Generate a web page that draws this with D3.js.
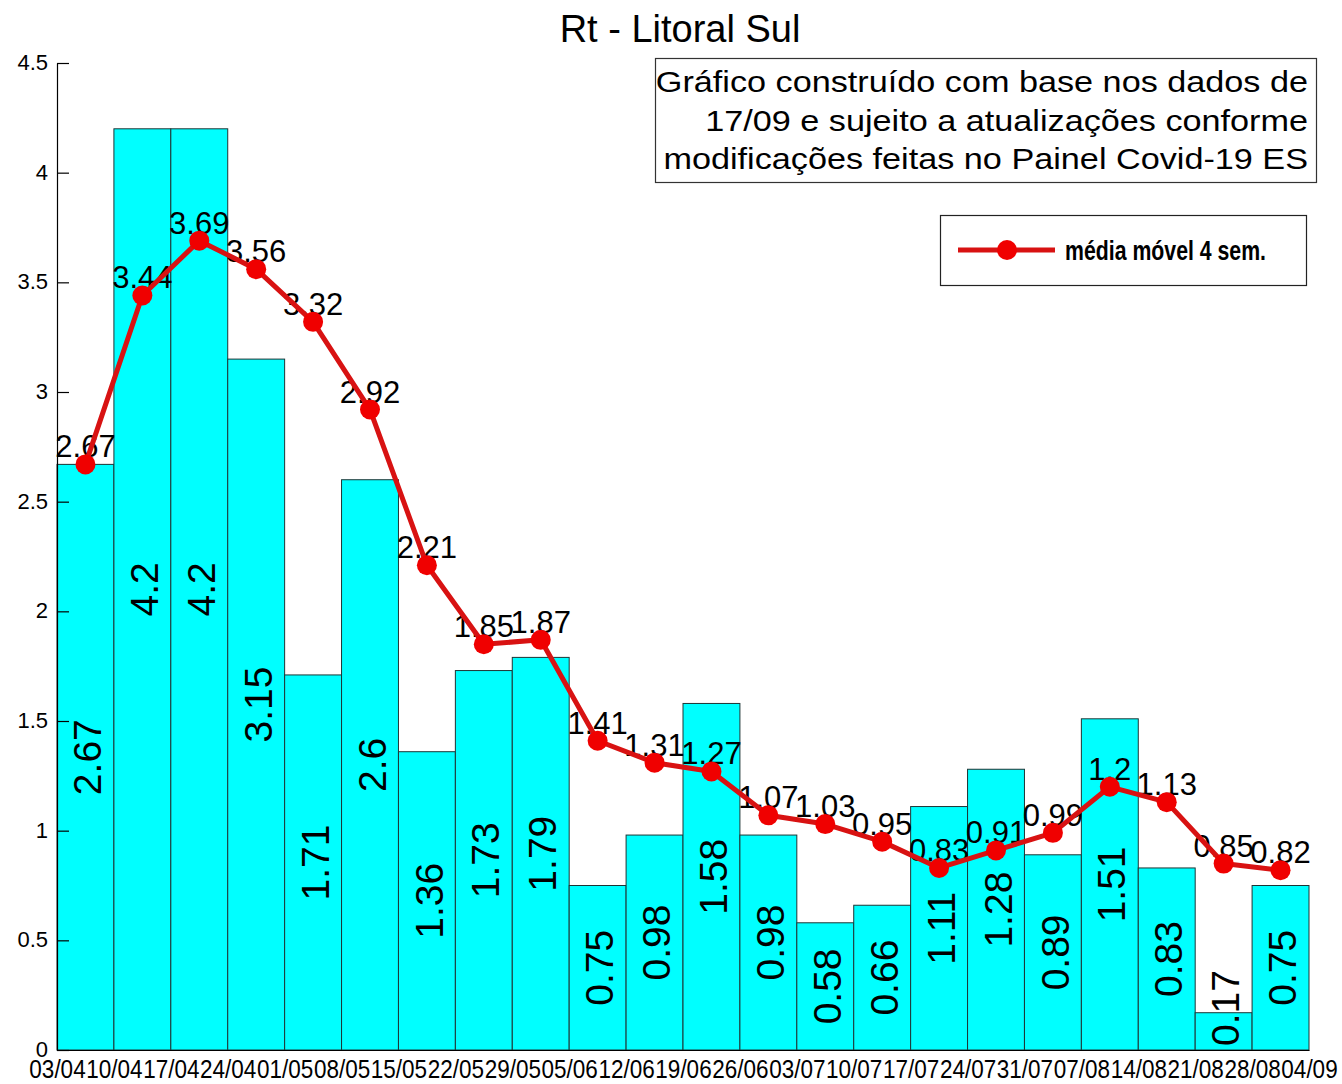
<!DOCTYPE html>
<html>
<head>
<meta charset="utf-8">
<script src="https://cdn.jsdelivr.net/npm/d3@7"></script>
<style>
  html, body { margin: 0; padding: 0; background: #fff; }
  svg { display: block; font-family: "Liberation Sans", Arial, sans-serif; }
</style>
</head>
<body>
<svg id="chart" width="1342" height="1084"></svg>
<script>
const weekLabels = ["03/04","10/04","17/04","24/04","01/05","08/05","15/05","22/05","29/05","05/06","12/06","19/06","26/06","03/07","10/07","17/07","24/07","31/07","07/08","14/08","21/08","28/08","04/09"];
const weeklyRt = [2.67, 4.2, 4.2, 3.15, 1.71, 2.6, 1.36, 1.73, 1.79, 0.75, 0.98, 1.58, 0.98, 0.58, 0.66, 1.11, 1.28, 0.89, 1.51, 0.83, 0.17, 0.75];
const movingAvg = [2.67, 3.44, 3.69, 3.56, 3.32, 2.92, 2.21, 1.85, 1.87, 1.41, 1.31, 1.27, 1.07, 1.03, 0.95, 0.83, 0.91, 0.99, 1.2, 1.13, 0.85, 0.82];
const yTicks = [0, 0.5, 1, 1.5, 2, 2.5, 3, 3.5, 4, 4.5];
const titleText = "Rt - Litoral Sul";
const noteLines = ["Gráfico construído com base nos dados de", "17/09 e sujeito a atualizações conforme", "modificações feitas no Painel Covid-19 ES"];
const legendLabel = "média móvel 4 sem.";

const svg = d3.select("#chart");
const plotLeft = 57, plotRight = 1309, plotTop = 63, plotBottom = 1050;

const x = d3.scaleLinear().domain([0, weeklyRt.length]).range([plotLeft, plotRight]);
const y = d3.scaleLinear().domain([0, 4.5]).range([plotBottom, plotTop]);

// Bars
svg.append("g").selectAll("rect").data(weeklyRt).join("rect")
  .attr("x", (d, i) => x(i))
  .attr("y", d => y(d))
  .attr("width", (d, i) => x(i + 1) - x(i))
  .attr("height", d => y(0) - y(d))
  .attr("fill", "#00ffff")
  .attr("stroke", "#1e3535")
  .attr("stroke-width", 1);

// Bar labels (rotated)
const barLab = svg.append("g").selectAll("text").data(weeklyRt).join("text")
  .text(d => String(d))
  .attr("font-size", 39)
  .attr("text-anchor", "middle")
  .attr("dy", "0.4em")
  .attr("fill", "#000");
barLab.each(function(d, i) {
  const len = this.getComputedTextLength();
  const mid = (y(d) + y(0)) / 2;
  const cy = Math.min(mid, y(0) - len / 2 - 4);
  const cx = (x(i) + x(i + 1)) / 2;
  d3.select(this).attr("transform", `translate(${cx},${cy}) rotate(-90)`);
});

// Y axis
const yAxis = svg.append("g")
  .attr("transform", `translate(${plotLeft},0)`)
  .call(d3.axisLeft(y).tickValues(yTicks).tickFormat(d => String(d)).tickSizeInner(-12).tickSizeOuter(0).tickPadding(9));
yAxis.select(".domain").attr("stroke", "#000").attr("stroke-width", 1.2);
yAxis.selectAll(".tick line").attr("stroke", "#000").attr("stroke-width", 1.2);
yAxis.selectAll(".tick text").attr("font-size", 22).attr("fill", "#000")
  .attr("font-family", "Liberation Sans, Arial, sans-serif")
  .attr("dy", "0.3em");

// X axis
const xAxis = svg.append("g")
  .attr("transform", `translate(0,${plotBottom})`)
  .call(d3.axisBottom(x).tickValues(d3.range(weekLabels.length)).tickFormat(i => weekLabels[i]).tickSize(0).tickPadding(10));
xAxis.select(".domain").attr("stroke", "#000").attr("stroke-width", 1.2);
xAxis.selectAll(".tick text").attr("font-size", 25).attr("fill", "#000")
  .attr("font-family", "Liberation Sans, Arial, sans-serif")
  .attr("transform", "scale(0.9,1)");

// Line labels
svg.append("g").selectAll("text").data(movingAvg).join("text")
  .attr("x", (d, i) => x(i + 0.5))
  .attr("y", d => y(d) - 7)
  .attr("text-anchor", "middle")
  .attr("font-size", 31)
  .attr("fill", "#000")
  .text(d => String(d));

// Line
const line = d3.line().x((d, i) => x(i + 0.5)).y(d => y(d));
svg.append("path").datum(movingAvg)
  .attr("d", line)
  .attr("fill", "none")
  .attr("stroke", "#d81212")
  .attr("stroke-width", 5)
  .attr("stroke-linejoin", "round");
svg.append("g").selectAll("circle").data(movingAvg).join("circle")
  .attr("cx", (d, i) => x(i + 0.5))
  .attr("cy", d => y(d))
  .attr("r", 10)
  .attr("fill", "#f00000");

// Title
svg.append("text")
  .attr("x", 680).attr("y", 42)
  .attr("text-anchor", "middle")
  .attr("font-size", 38)
  .attr("fill", "#000")
  .text(titleText);

// Note box
svg.append("rect")
  .attr("x", 655.5).attr("y", 58.5).attr("width", 661).attr("height", 124)
  .attr("fill", "#fff").attr("stroke", "#333").attr("stroke-width", 1.2);
svg.append("g").selectAll("text").data(noteLines).join("text")
  .attr("transform", (d, i) => `translate(1308,${92 + i * 38.5}) scale(1.18,1)`)
  .attr("text-anchor", "end")
  .attr("font-size", 29)
  .attr("fill", "#000")
  .text(d => d);

// Legend
const lg = svg.append("g");
lg.append("rect")
  .attr("x", 940.5).attr("y", 215.5).attr("width", 366).attr("height", 70)
  .attr("fill", "#fff").attr("stroke", "#222").attr("stroke-width", 1.2);
lg.append("line")
  .attr("x1", 958).attr("x2", 1055).attr("y1", 250).attr("y2", 250)
  .attr("stroke", "#d81212").attr("stroke-width", 5);
lg.append("circle").attr("cx", 1007).attr("cy", 250).attr("r", 10).attr("fill", "#f00000");
lg.append("text")
  .attr("transform", "translate(1065,260) scale(0.76,1)")
  .attr("font-size", 28)
  .attr("font-weight", "bold")
  .attr("fill", "#000")
  .text(legendLabel);
</script>
</body>
</html>
